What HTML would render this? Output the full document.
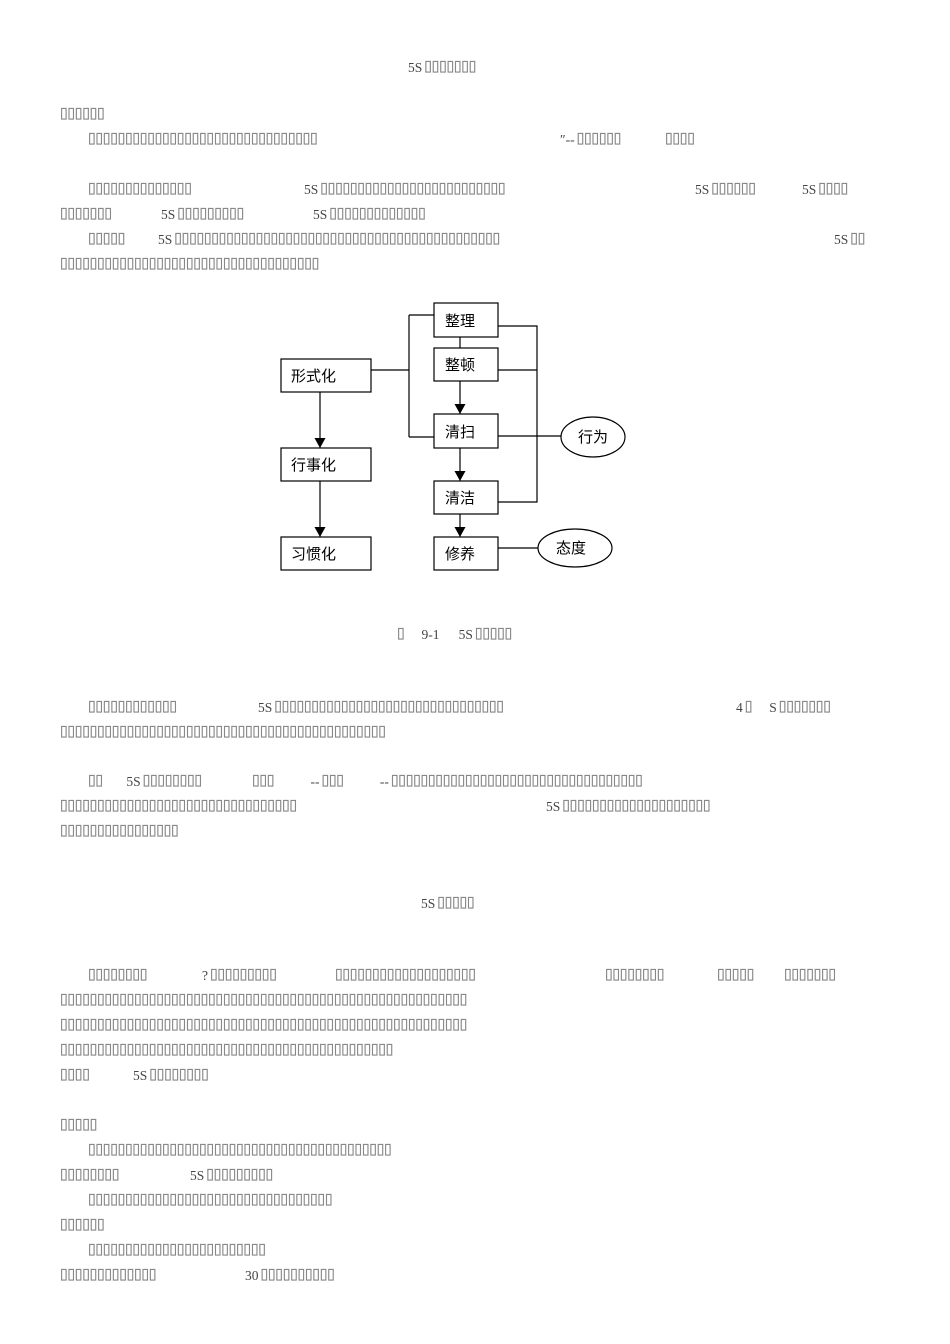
<!DOCTYPE html>
<html><head><meta charset="utf-8"><style>
body{margin:0;background:#fff;width:950px;height:1344px;position:relative;overflow:hidden}
.t{position:absolute;font-family:"DejaVu Sans Mono",monospace;font-size:20px;letter-spacing:-4.64px;line-height:20px;color:#888;white-space:pre;transform:translateY(-10px)}
.t i{font-style:normal;font-family:"Liberation Serif",serif;font-size:13.5px;letter-spacing:0;word-spacing:3px;color:#444}
</style></head><body>
<div class="t" style="left:408px;top:65px"><i>5S</i>▯▯▯▯▯▯▯</div>
<div class="t" style="left:58px;top:112px">▯▯▯▯▯▯</div>
<div class="t" style="left:86px;top:137px">▯▯▯▯▯▯▯▯▯▯▯▯▯▯▯▯▯▯▯▯▯▯▯▯▯▯▯▯▯▯▯</div>
<div class="t" style="left:560px;top:137px"><i>″--</i>▯▯▯▯▯▯</div>
<div class="t" style="left:663px;top:137px">▯▯▯▯</div>
<div class="t" style="left:86px;top:187px">▯▯▯▯▯▯▯▯▯▯▯▯▯▯</div>
<div class="t" style="left:304px;top:187px"><i>5S</i>▯▯▯▯▯▯▯▯▯▯▯▯▯▯▯▯▯▯▯▯▯▯▯▯▯</div>
<div class="t" style="left:695px;top:187px"><i>5S</i>▯▯▯▯▯▯</div>
<div class="t" style="left:802px;top:187px"><i>5S</i>▯▯▯▯</div>
<div class="t" style="left:58px;top:212px">▯▯▯▯▯▯▯</div>
<div class="t" style="left:161px;top:212px"><i>5S</i>▯▯▯▯▯▯▯▯▯</div>
<div class="t" style="left:313px;top:212px"><i>5S</i>▯▯▯▯▯▯▯▯▯▯▯▯▯</div>
<div class="t" style="left:86px;top:237px">▯▯▯▯▯</div>
<div class="t" style="left:158px;top:237px"><i>5S</i>▯▯▯▯▯▯▯▯▯▯▯▯▯▯▯▯▯▯▯▯▯▯▯▯▯▯▯▯▯▯▯▯▯▯▯▯▯▯▯▯▯▯▯▯</div>
<div class="t" style="left:834px;top:237px"><i>5S</i>▯▯</div>
<div class="t" style="left:58px;top:262px">▯▯▯▯▯▯▯▯▯▯▯▯▯▯▯▯▯▯▯▯▯▯▯▯▯▯▯▯▯▯▯▯▯▯▯</div>

<svg style="position:absolute;left:0;top:0" width="950" height="1344">
<defs><marker id="a" markerWidth="12" markerHeight="12" refX="10" refY="5.5" orient="auto" markerUnits="userSpaceOnUse"><path d="M0,0L10,5.5L0,11z" fill="#000"/></marker></defs>
<g stroke="#000" stroke-width="1.2" fill="#fff">
<rect x="281" y="359" width="90" height="33"/>
<rect x="281" y="448" width="90" height="33"/>
<rect x="281" y="537" width="90" height="33"/>
<rect x="434" y="303" width="64" height="34"/>
<rect x="434" y="348" width="64" height="33"/>
<rect x="434" y="414" width="64" height="34"/>
<rect x="434" y="481" width="64" height="33"/>
<rect x="434" y="537" width="64" height="33"/>
<ellipse cx="593" cy="437" rx="32" ry="20"/>
<ellipse cx="575" cy="548" rx="37" ry="19"/>
<g fill="none">
<path d="M371 370H409M409 315V437M409 315H434M409 437H434"/>
<path d="M498 326H537V502H498M498 370H537M498 436H561M498 548H538M460 337V348"/>
<path d="M320 392V448" marker-end="url(#a)"/>
<path d="M320 481V537" marker-end="url(#a)"/>
<path d="M460 381V414" marker-end="url(#a)"/>
<path d="M460 448V481" marker-end="url(#a)"/>
<path d="M460 514V537" marker-end="url(#a)"/>
</g></g>
<g font-family="'Noto Sans CJK SC',sans-serif" font-size="15" fill="#000">
<text x="291" y="381">形式化</text><text x="291" y="470">行事化</text><text x="291" y="559">习惯化</text>
<text x="445" y="326">整理</text><text x="445" y="370">整顿</text><text x="445" y="437">清扫</text>
<text x="445" y="503">清洁</text><text x="445" y="559">修养</text>
<text x="578" y="442">行为</text><text x="556" y="553">态度</text>
</g></svg>

<div class="t" style="left:395px;top:632px">▯<i>   9-1   5S</i>▯▯▯▯▯</div>
<div class="t" style="left:86px;top:705px">▯▯▯▯▯▯▯▯▯▯▯▯</div>
<div class="t" style="left:258px;top:705px"><i>5S</i>▯▯▯▯▯▯▯▯▯▯▯▯▯▯▯▯▯▯▯▯▯▯▯▯▯▯▯▯▯▯▯</div>
<div class="t" style="left:736px;top:705px"><i>4</i>▯<i>   S</i>▯▯▯▯▯▯▯</div>
<div class="t" style="left:58px;top:730px">▯▯▯▯▯▯▯▯▯▯▯▯▯▯▯▯▯▯▯▯▯▯▯▯▯▯▯▯▯▯▯▯▯▯▯▯▯▯▯▯▯▯▯▯</div>
<div class="t" style="left:86px;top:779px">▯▯<i>    5S</i>▯▯▯▯▯▯▯▯</div>
<div class="t" style="left:250px;top:779px">▯▯▯<i>      --</i>▯▯▯<i>      --</i>▯▯▯▯▯▯▯▯▯▯▯▯▯▯▯▯▯▯▯▯▯▯▯▯▯▯▯▯▯▯▯▯▯▯</div>
<div class="t" style="left:58px;top:804px">▯▯▯▯▯▯▯▯▯▯▯▯▯▯▯▯▯▯▯▯▯▯▯▯▯▯▯▯▯▯▯▯</div>
<div class="t" style="left:546px;top:804px"><i>5S</i>▯▯▯▯▯▯▯▯▯▯▯▯▯▯▯▯▯▯▯▯</div>
<div class="t" style="left:58px;top:829px">▯▯▯▯▯▯▯▯▯▯▯▯▯▯▯▯</div>
<div class="t" style="left:421px;top:901px"><i>5S</i>▯▯▯▯▯</div>
<div class="t" style="left:86px;top:973px">▯▯▯▯▯▯▯▯</div>
<div class="t" style="left:202px;top:973px"><i>?</i>▯▯▯▯▯▯▯▯▯</div>
<div class="t" style="left:333px;top:973px">▯▯▯▯▯▯▯▯▯▯▯▯▯▯▯▯▯▯▯</div>
<div class="t" style="left:603px;top:973px">▯▯▯▯▯▯▯▯</div>
<div class="t" style="left:715px;top:973px">▯▯▯▯▯</div>
<div class="t" style="left:782px;top:973px">▯▯▯▯▯▯▯</div>
<div class="t" style="left:58px;top:998px">▯▯▯▯▯▯▯▯▯▯▯▯▯▯▯▯▯▯▯▯▯▯▯▯▯▯▯▯▯▯▯▯▯▯▯▯▯▯▯▯▯▯▯▯▯▯▯▯▯▯▯▯▯▯▯</div>
<div class="t" style="left:58px;top:1023px">▯▯▯▯▯▯▯▯▯▯▯▯▯▯▯▯▯▯▯▯▯▯▯▯▯▯▯▯▯▯▯▯▯▯▯▯▯▯▯▯▯▯▯▯▯▯▯▯▯▯▯▯▯▯▯</div>
<div class="t" style="left:58px;top:1048px">▯▯▯▯▯▯▯▯▯▯▯▯▯▯▯▯▯▯▯▯▯▯▯▯▯▯▯▯▯▯▯▯▯▯▯▯▯▯▯▯▯▯▯▯▯</div>
<div class="t" style="left:58px;top:1073px">▯▯▯▯</div>
<div class="t" style="left:133px;top:1073px"><i>5S</i>▯▯▯▯▯▯▯▯</div>
<div class="t" style="left:58px;top:1123px">▯▯▯▯▯</div>
<div class="t" style="left:86px;top:1148px">▯▯▯▯▯▯▯▯▯▯▯▯▯▯▯▯▯▯▯▯▯▯▯▯▯▯▯▯▯▯▯▯▯▯▯▯▯▯▯▯▯</div>
<div class="t" style="left:58px;top:1173px">▯▯▯▯▯▯▯▯</div>
<div class="t" style="left:190px;top:1173px"><i>5S</i>▯▯▯▯▯▯▯▯▯</div>
<div class="t" style="left:86px;top:1198px">▯▯▯▯▯▯▯▯▯▯▯▯▯▯▯▯▯▯▯▯▯▯▯▯▯▯▯▯▯▯▯▯▯</div>
<div class="t" style="left:58px;top:1223px">▯▯▯▯▯▯</div>
<div class="t" style="left:86px;top:1248px">▯▯▯▯▯▯▯▯▯▯▯▯▯▯▯▯▯▯▯▯▯▯▯▯</div>
<div class="t" style="left:58px;top:1273px">▯▯▯▯▯▯▯▯▯▯▯▯▯</div>
<div class="t" style="left:245px;top:1273px"><i>30</i>▯▯▯▯▯▯▯▯▯▯</div>
</body></html>
